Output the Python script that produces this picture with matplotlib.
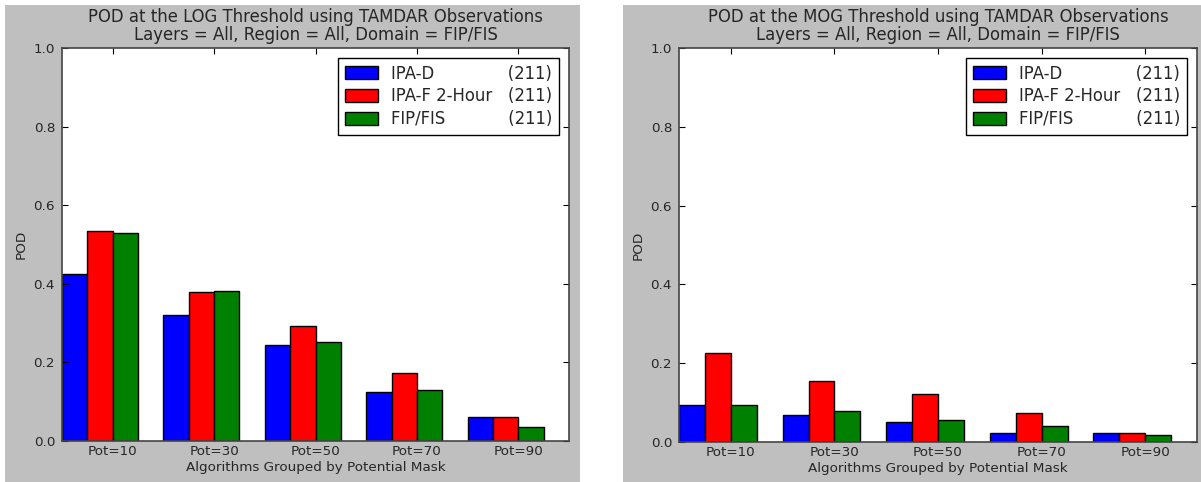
import matplotlib
matplotlib.use('Agg')
import matplotlib.pyplot as plt
import numpy as np
from matplotlib.patches import Rectangle

groups = ['Pot=10', 'Pot=30', 'Pot=50', 'Pot=70', 'Pot=90']
series = ['IPA-D', 'IPA-F 2-Hour', 'FIP/FIS']
counts = [211, 211, 211]

log_ipad = [0.425, 0.321, 0.245, 0.125, 0.062]
log_ipaf = [0.534, 0.378, 0.292, 0.173, 0.062]
log_fip = [0.529, 0.381, 0.253, 0.130, 0.036]

mog_ipad = [0.093, 0.069, 0.051, 0.023, 0.022]
mog_ipaf = [0.226, 0.154, 0.121, 0.074, 0.022]
mog_fip = [0.093, 0.079, 0.056, 0.041, 0.017]

colors = ['#0000ff', '#ff0000', '#008000']
# padded label text, like the original's string formatting
pads = [14, 3, 12]
labels = [s + ' ' * p + '(%d)' % c for s, p, c in zip(series, pads, counts)]

W, H = 1201, 482
fig = plt.figure(figsize=(W / 100, H / 100), dpi=100)
fig.set_facecolor('white')

# grey backgrounds of the two panels
fig.patches.append(Rectangle((5 / W, 0), 575 / W, 477 / H, transform=fig.transFigure,
                             facecolor='#bfbfbf', edgecolor='none', zorder=-10))
fig.patches.append(Rectangle((623 / W, 0), 578 / W, 477 / H, transform=fig.transFigure,
                             facecolor='#bfbfbf', edgecolor='none', zorder=-10))

txt = '#262626'
plt.rcParams['font.family'] = 'DejaVu Sans'


def panel(rect, data, thresh):
    ax = fig.add_axes(rect)
    x = np.arange(len(groups))
    w = 0.25
    for k, vals in enumerate(data):
        ax.bar(x + k * w, vals, w, align='edge', color=colors[k], edgecolor='black',
               linewidth=1, label=labels[k])
    ax.set_xlim(0, len(groups))
    ax.set_ylim(0, 1.0)
    ax.set_xticks(x + 0.5)
    ax.set_xticklabels(groups)
    ax.set_yticks(np.arange(0, 1.01, 0.2))
    ax.yaxis.set_major_formatter(matplotlib.ticker.FormatStrFormatter('%.1f'))
    ax.tick_params(direction='in', length=4, top=True, right=True, labelsize=9.7,
                   labelcolor=txt, pad=5)
    ax.tick_params(axis='x', pad=3)
    for s in ax.spines.values():
        s.set_color('#444444')
        s.set_linewidth(1.2)
    ax.set_title('POD at the %s Threshold using TAMDAR Observations\n'
                 'Layers = All, Region = All, Domain = FIP/FIS' % thresh,
                 fontsize=11.9, color=txt, pad=6, linespacing=1.0)
    ax.set_xlabel('Algorithms Grouped by Potential Mask', fontsize=9.7, color=txt,
                  labelpad=2)
    ax.set_ylabel('POD', fontsize=9.7, color=txt)
    leg = ax.legend(loc='upper right', fontsize=11.9, fancybox=False, framealpha=1,
                    edgecolor='black', borderaxespad=0.6, handlelength=2.0,
                    handleheight=0.8, labelspacing=0.3)
    leg.get_frame().set_linewidth(1.0)
    for t in leg.get_texts():
        t.set_color(txt)
    return ax


panel([62 / W, 1 - 441 / H, 507 / W, 393 / H], [log_ipad, log_ipaf, log_fip], 'LOG')
panel([679 / W, 1 - 442 / H, 518 / W, 394 / H], [mog_ipad, mog_ipaf, mog_fip], 'MOG')

fig.savefig('out.png', dpi=100)
